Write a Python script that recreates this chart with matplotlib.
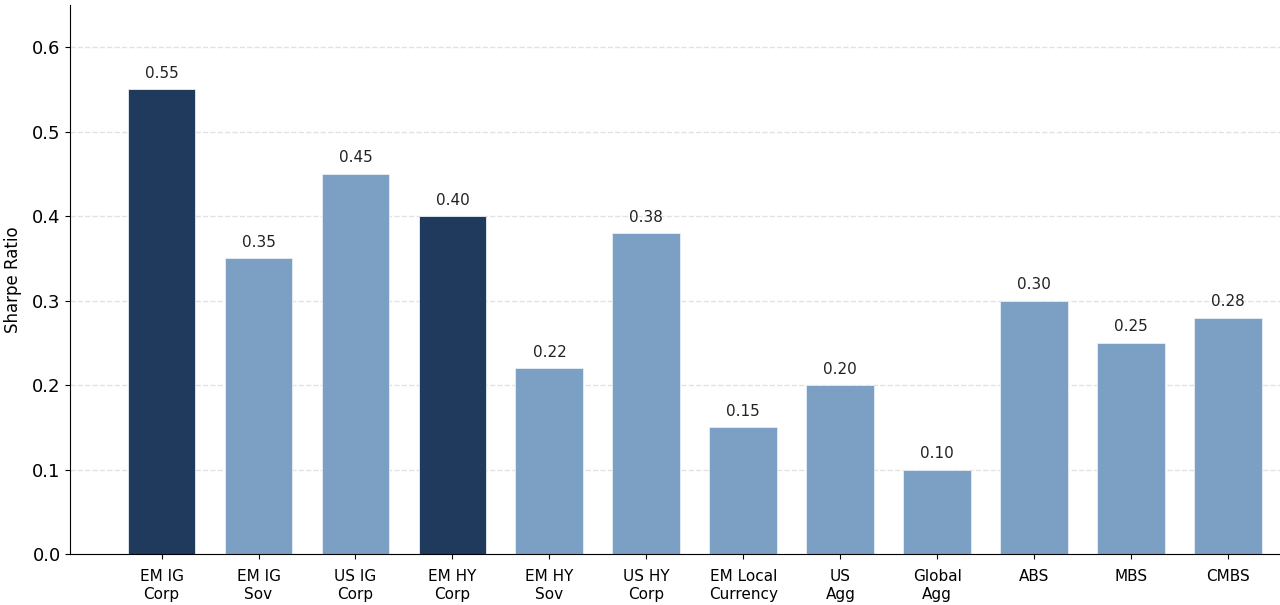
import matplotlib
matplotlib.use("Agg")
import matplotlib.pyplot as plt

# data
labels = ["EM IG\nCorp", "EM IG\nSov", "US IG\nCorp", "EM HY\nCorp", "EM HY\nSov",
          "US HY\nCorp", "EM Local\nCurrency", "US\nAgg", "Global\nAgg", "ABS", "MBS", "CMBS"]
sharpe = [0.55, 0.35, 0.45, 0.40, 0.22, 0.38, 0.15, 0.20, 0.10, 0.30, 0.25, 0.28]
highlight = [True, False, False, True, False, False, False, False, False, False, False, False]

dark = "#1f3a5c"
light = "#7ba0c4"

fig = plt.figure(figsize=(12.8, 6.05), dpi=100)
ax = fig.add_axes([0.055, 0.084, 0.95, 0.908])

x = list(range(len(labels)))
colors = [dark if h else light for h in highlight]
ax.bar(x, sharpe, width=0.7, color=colors, edgecolor="#e8eef4", linewidth=0.6, zorder=2)

for xi, v in zip(x, sharpe):
    ax.text(xi, v + 0.01, f"{v:.2f}", ha="center", va="bottom", fontsize=11, color="#222222")

ax.set_xlim(-0.94, 11.6)
ax.set_ylim(0, 0.65)
ax.set_yticks([0.0, 0.1, 0.2, 0.3, 0.4, 0.5, 0.6])
ax.set_xticks(x)
ax.set_xticklabels(labels, fontsize=11, linespacing=1.25)
ax.tick_params(axis="x", pad=7)
ax.tick_params(axis="y", labelsize=13)
ax.set_ylabel("Sharpe Ratio", fontsize=12, labelpad=7)
ax.yaxis.grid(True, linestyle="--", color="#e2e2e2", linewidth=1, zorder=0)
ax.set_axisbelow(True)
ax.spines["top"].set_visible(False)
ax.spines["right"].set_visible(False)

fig.savefig("out.png", dpi=100)
